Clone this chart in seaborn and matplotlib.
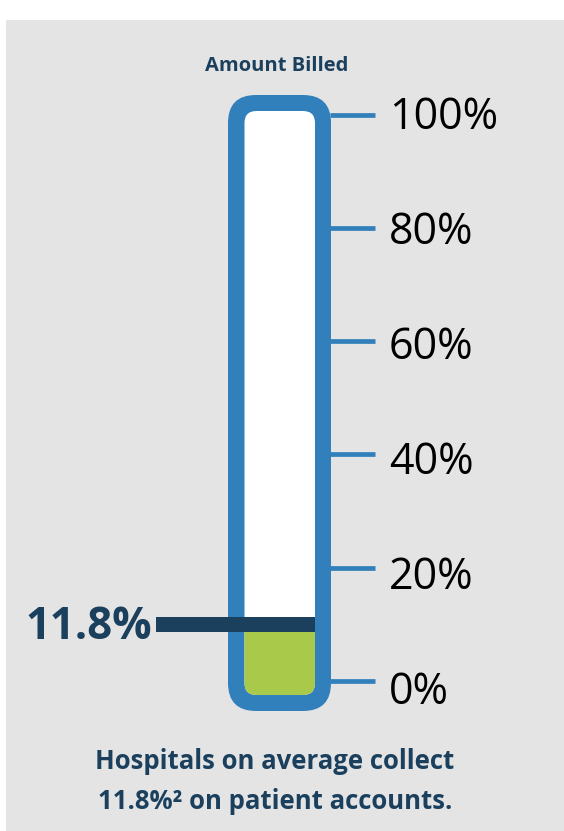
import matplotlib
matplotlib.use("Agg")
import matplotlib.pyplot as plt
import matplotlib.transforms as mtransforms
from matplotlib.patches import FancyBboxPatch, Rectangle
import seaborn as sns
import pandas as pd

# ---- data ----
category = ["Amount Billed"]
collected_pct = [11.8]
tick_values = [0, 20, 40, 60, 80, 100]
tick_labels = ["0%", "20%", "40%", "60%", "80%", "100%"]
title_text = "Amount Billed"
value_label = "11.8%"
caption_lines = ["Hospitals on average collect", "11.8%\u00b2 on patient accounts."]

# ---- style ----
BG_GREY = "#e4e4e4"
BLUE = "#3180bb"
NAVY = "#1b405d"
GREEN = "#a9c94a"

sns.set_theme(style="white")
plt.rcParams["font.family"] = ["Open Sans", "DejaVu Sans"]

W, H, DPI = 564, 831, 100
fig = plt.figure(figsize=(W / DPI, H / DPI), dpi=DPI)
fig.patch.set_facecolor("white")
ax = fig.add_axes([0, 0, 1, 1])
ax.set_facecolor("none")

# axis scale: x -> tube centred at 0 (100 px per unit); y -> percent
PX_PER_PCT = 5.665
Y0_PX = 681.0  # pixel row of 0%
XLIM = (-2.795, 2.845)
YLIM = ((Y0_PX - H) / PX_PER_PCT, Y0_PX / PX_PER_PCT)

# grey panel
ax.add_patch(Rectangle((6 / W, 0), 1 - 6 / W, (H - 20) / H, transform=ax.transAxes,
                       facecolor=BG_GREY, edgecolor="none", zorder=0))

aspect = 100 / PX_PER_PCT  # mutation aspect for round corners

# tube geometry (in axis units)
outer_x0, outer_x1 = -0.515, 0.515
outer_y0, outer_y1 = (Y0_PX - 711) / PX_PER_PCT, (Y0_PX - 95) / PX_PER_PCT
inner_x0, inner_x1 = -0.35, 0.355
inner_y0, inner_y1 = (Y0_PX - 695) / PX_PER_PCT, (Y0_PX - 111) / PX_PER_PCT

outer = FancyBboxPatch((outer_x0, outer_y0), outer_x1 - outer_x0, outer_y1 - outer_y0,
                       boxstyle="round,pad=0,rounding_size=0.28",
                       mutation_aspect=aspect, facecolor=BLUE, edgecolor="none", zorder=1)
ax.add_patch(outer)
inner = FancyBboxPatch((inner_x0, inner_y0), inner_x1 - inner_x0, inner_y1 - inner_y0,
                       boxstyle="round,pad=0,rounding_size=0.12",
                       mutation_aspect=aspect, facecolor="white", edgecolor="none", zorder=2)
ax.add_patch(inner)

# fill level: value as share of the inner tube
level = inner_y0 + collected_pct[0] / 100 * (inner_y1 - inner_y0)

df = pd.DataFrame({"cat": category, "pct": collected_pct})
sns.barplot(data=df, x="cat", y="pct", color=GREEN, width=inner_x1 - inner_x0,
            saturation=1, ax=ax, zorder=3)
ax.set_xlim(*XLIM)
ax.set_ylim(*YLIM)
ax.axis("off")
for bar in ax.patches:
    if bar.get_facecolor()[:3] == matplotlib.colors.to_rgb(GREEN):
        bar.set_y(inner_y0)
        bar.set_height(level - inner_y0)
        bar.set_edgecolor("none")
        bar.set_clip_path(inner)

# marker line at fill level
marker_half = 7.5 / PX_PER_PCT
ax.add_patch(Rectangle((-1.235, level + 0.35 - marker_half), inner_x1 + 1.235, 2 * marker_half,
                       facecolor=NAVY, edgecolor="none", zorder=4))
lab_tr = mtransforms.offset_copy(ax.transData, fig=fig, x=0, y=-13, units="dots")
ax.text(-1.27, level, value_label, transform=lab_tr, ha="right", va="baseline",
        fontsize=31.5, fontweight="bold", color=NAVY, zorder=5)

# scale ticks and labels (labels spaced slightly wider than ticks, as in the source)
ax.hlines(tick_values, 0.505, 0.955, colors=BLUE, linewidth=3.4, zorder=0.5)
tick_tr = mtransforms.offset_copy(ax.transData, fig=fig, x=0, y=-15.5, units="dots")
for v, lab in zip(tick_values, tick_labels):
    ax.text(1.095, v * 1.015 - 1.236, lab, transform=tick_tr, ha="left", va="baseline",
            fontsize=31, color="black", zorder=5)

# title and caption
fig.text(277 / W, 1 - 71 / H, title_text, ha="center", va="baseline",
         fontsize=14.5, fontweight="bold", color=NAVY)
fig.text(275 / W, 1 - 769 / H, caption_lines[0], ha="center", va="baseline",
         fontsize=18.5, fontweight="bold", color=NAVY)
fig.text(275 / W, 1 - 809 / H, caption_lines[1], ha="center", va="baseline",
         fontsize=18.5, fontweight="bold", color=NAVY)

fig.savefig("out.png", dpi=DPI, facecolor="white")
